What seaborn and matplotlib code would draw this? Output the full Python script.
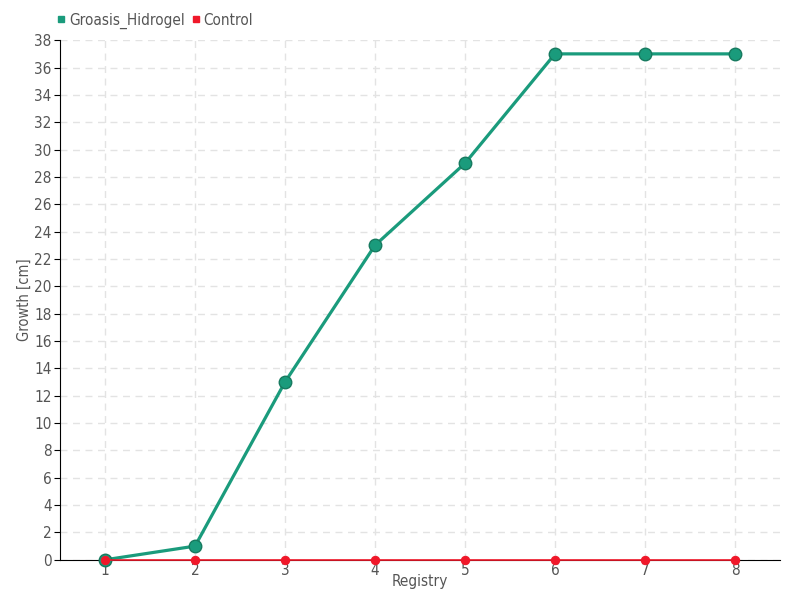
import pandas as pd
import matplotlib.pyplot as plt
import seaborn as sns
from matplotlib.lines import Line2D

# data
registry = [1, 2, 3, 4, 5, 6, 7, 8]
groasis = [0, 1, 13, 23, 29, 37, 37, 37]
control = [0, 0, 0, 0, 0, 0, 0, 0]

df = pd.DataFrame({'Registry': registry, 'Groasis_Hidrogel': groasis, 'Control': control})
df = df.melt(id_vars='Registry', var_name='serie', value_name='Growth')

sns.set_style('white')
plt.rcParams['font.family'] = ['DejaVu Sans']
plt.rcParams['font.stretch'] = 'condensed'

fig, ax = plt.subplots(figsize=(8, 6), dpi=100)
fig.subplots_adjust(left=0.075, right=0.975, top=0.933, bottom=0.067)

green = '#1a9b7c'
red = '#f0182a'
txt = '#555555'

sns.lineplot(data=df[df.serie == 'Groasis_Hidrogel'], x='Registry', y='Growth', color=green,
             linewidth=2.3, marker='o', markersize=9, markeredgecolor='#177a5f',
             markeredgewidth=1, ax=ax, zorder=4, clip_on=False)
sns.lineplot(data=df[df.serie == 'Control'], x='Registry', y='Growth', color=red,
             linewidth=1.2, marker='o', markersize=6, markeredgecolor=red, ax=ax,
             zorder=5, clip_on=False)

ax.set_xlim(0.5, 8.5)
ax.set_ylim(0, 38)
ax.set_xticks(registry)
ax.set_yticks(range(0, 39, 2))
ax.grid(True, linestyle=(0, (5, 4)), color='#e3e3e3', linewidth=1)
ax.set_axisbelow(True)
for s in ['top', 'right']:
    ax.spines[s].set_visible(False)
ax.spines['left'].set_color('black')
ax.spines['bottom'].set_color('black')
ax.spines['bottom'].set_zorder(1)
ax.tick_params(axis='y', left=True, length=4, color='black', labelsize=11, labelcolor=txt, pad=2)
ax.tick_params(axis='x', bottom=False, labelsize=11, labelcolor=txt, pad=-1)
ax.set_xlabel('Registry', fontsize=11, color=txt, labelpad=-3)
ax.set_ylabel('Growth [cm]', fontsize=10.5, color=txt, labelpad=2)

handles = [Line2D([], [], marker='s', linestyle='', color=green, markersize=5),
           Line2D([], [], marker='s', linestyle='', color=red, markersize=5)]
fig.legend(handles, ['Groasis_Hidrogel', 'Control'], loc='upper left',
           bbox_to_anchor=(0.052, 1.002), ncol=2, frameon=False, fontsize=11,
           handletextpad=0.1, columnspacing=0.3, handlelength=0.8, labelcolor=txt)

fig.savefig('out.png')
